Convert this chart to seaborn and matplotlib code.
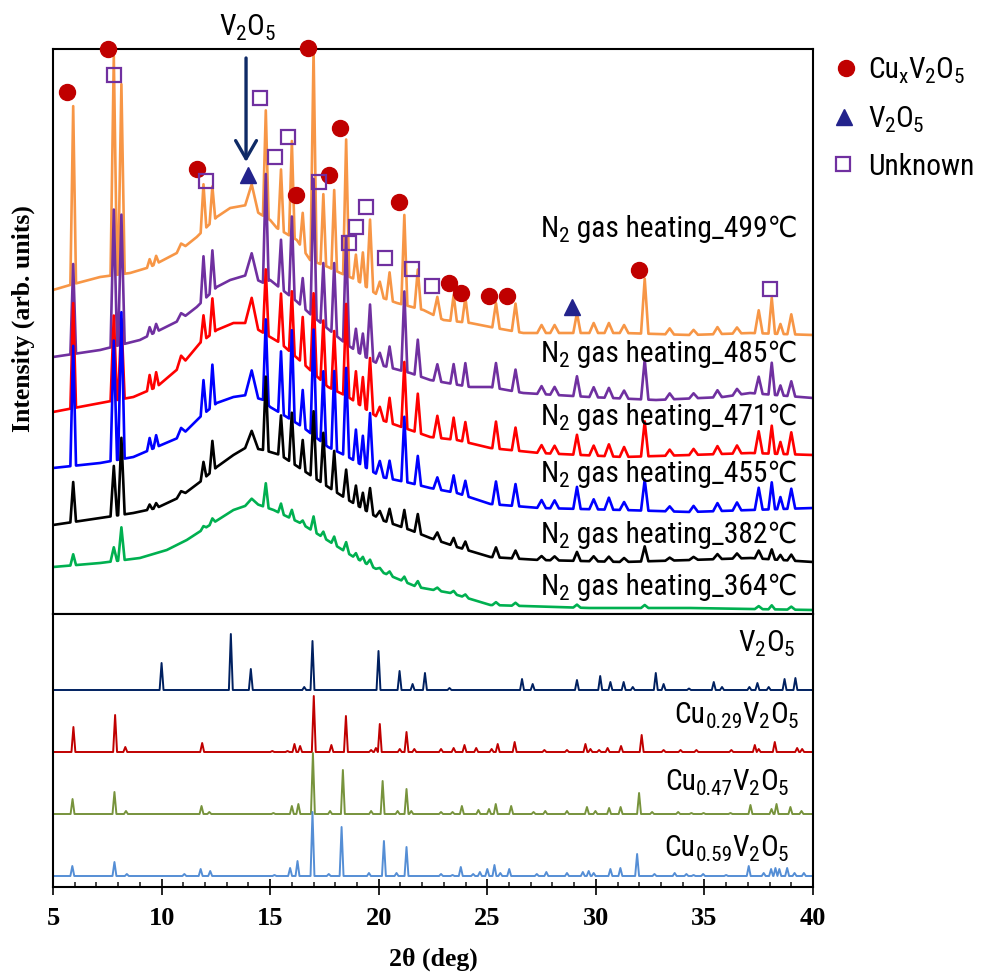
import numpy as np
import matplotlib
matplotlib.use("Agg")
import matplotlib.pyplot as plt
from matplotlib import font_manager
from matplotlib.lines import Line2D
from matplotlib.ticker import MultipleLocator
import seaborn as sns

W_PX, H_PX = 989, 974

# ---- measured XRD data (2theta in deg, intensity in arbitrary units) ----
# shared peak list of the heated samples (upper panel)
PEAK_POS = [5.93, 7.80, 8.15, 9.45, 9.75, 10.90, 11.93, 12.34, 14.15, 14.80,
            15.50, 16.00, 16.50, 17.00, 17.45, 17.95, 18.50, 18.95, 19.27, 19.60,
            20.05, 20.50, 21.18, 21.80, 22.70, 23.45, 23.99, 25.40, 26.30, 27.50,
            28.10, 29.13, 29.90, 30.60, 31.30, 32.25, 33.40, 34.50, 35.60, 36.50,
            37.50, 38.10, 38.50, 39.00]
PEAK_HW = [0.13, 0.15, 0.15, 0.12, 0.12, 0.20, 0.13, 0.13, 0.30, 0.13,
           0.13, 0.13, 0.13, 0.14, 0.13, 0.13, 0.14, 0.13, 0.13, 0.15,
           0.18, 0.15, 0.14, 0.15, 0.18, 0.15, 0.15, 0.17, 0.17, 0.20,
           0.20, 0.17, 0.20, 0.20, 0.20, 0.17, 0.20, 0.20, 0.20, 0.20,
           0.18, 0.15, 0.15, 0.18]

T499_BASE_X = [5.0, 5.78, 7.17, 8.55, 9.47, 10.7, 11.62, 12.08, 12.54, 13.16, 13.93, 14.54, 15.0,
               15.31, 16.23, 16.84, 17.67, 18.23, 18.99, 20.07, 20.84, 22.06, 22.99, 24.22, 25.14,
               26.66, 28.2, 31.27, 34.35, 37.12, 40.0]
T499_BASE_Y = [324, 329, 337, 341, 347, 361, 377, 387, 397, 406, 409, 400, 394,
               386, 374, 354, 347, 341, 334, 317, 311, 304, 294, 291, 287,
               281, 281, 281, 279, 281, 279]
T499_H = [178, 219, 190, 8, 8, 6, 46, 35, 24, 107,
          61, 96, 36, 211, 71, 80, 136, 25, 32, 70,
          15, 28, 90, 39, 20, 26, 25, 25, 28, 8,
          8, 20, 10, 10, 8, 55, 6, 5, 7, 6,
          23, 36, 10, 20]

T485_BASE_X = [5.0, 7.17, 9.0, 10.85, 11.62, 12.54, 13.16, 13.93, 14.7, 15.0, 16.2, 16.84, 17.67,
               18.5, 19.3, 20.07, 21.45, 22.37, 24.22, 25.14, 26.66, 29.7, 32.77, 35.84, 37.1, 40.0]
T485_BASE_Y = [257, 264, 274, 294, 307, 327, 334, 339, 331, 334, 313, 300, 285,
               270, 258, 249, 241, 234, 227, 227, 221, 217, 214, 217, 221, 216]
T485_H = [90, 137, 130, 8, 8, 6, 44, 41, 24, 108,
          49, 81, 29, 138, 62, 71, 108, 22, 22, 55,
          12, 21, 80, 36, 17, 20, 23, 25, 22, 8,
          8, 20, 10, 10, 8, 40, 6, 5, 7, 6,
          17, 32, 10, 15]

T471_BASE_X = [5.0, 7.17, 8.7, 9.77, 10.85, 11.77, 12.54, 13.31, 13.93, 14.7, 15.0, 15.47, 16.5,
               17.67, 18.6, 20.13, 21.45, 22.37, 23.6, 25.14, 27.4, 31.27, 34.35, 37.12, 40.0]
T471_BASE_Y = [202, 211, 217, 227, 247, 271, 284, 291, 291, 281, 277, 271, 251,
               227, 217, 194, 184, 177, 174, 166, 161, 157, 159, 161, 159]
T471_H = [105, 85, 80, 15, 15, 10, 25, 35, 28, 65,
          50, 62, 46, 80, 62, 59, 92, 31, 30, 54,
          12, 25, 66, 39, 22, 22, 20, 27, 23, 8,
          8, 20, 10, 12, 10, 35, 6, 6, 8, 8,
          22, 28, 12, 22]

T455_BASE_X = [5.0, 7.17, 8.7, 9.77, 10.85, 11.77, 12.54, 13.31, 13.93, 14.7, 15.0, 15.47, 16.5,
               17.67, 18.6, 20.13, 21.45, 22.37, 23.6, 25.14, 27.4, 31.27, 34.35, 37.12, 40.0]
T455_BASE_Y = [146, 151, 157, 167, 177, 197, 211, 217, 219, 214, 207, 201, 187,
               167, 157, 137, 131, 126, 121, 110, 106, 104, 102, 104, 106]
T455_H = [120, 120, 147, 12, 12, 8, 34, 42, 26, 83,
          62, 90, 37, 106, 72, 79, 88, 32, 30, 57,
          15, 18, 65, 29, 12, 17, 15, 23, 22, 8,
          8, 22, 10, 12, 8, 31, 5, 6, 8, 8,
          22, 27, 12, 20]

T382_BASE_X = [5.0, 7.17, 8.7, 9.77, 10.85, 11.77, 12.54, 13.31, 13.93, 14.7, 15.47, 16.5, 17.67,
               18.6, 20.13, 21.45, 22.37, 23.6, 25.14, 27.4, 31.27, 34.35, 37.12, 40.0]
T382_BASE_Y = [89, 96, 101, 106, 117, 132, 147, 159, 167, 164, 159, 144, 127,
               114, 94, 84, 76, 67, 57, 54, 52, 54, 56, 52]
T382_H = [40, 50, 77, 5, 5, 5, 17, 30, 17, 74,
          40, 50, 30, 66, 51, 40, 29, 19, 16, 25,
          8, 14, 18, 19, 8, 8, 8, 10, 8, 4,
          4, 9, 5, 5, 4, 15, 3, 3, 5, 5,
          8, 10, 5, 6]

T364_BASE_X = [5.0, 7.17, 9.0, 10.24, 11.16, 12.08, 13.31, 14.24, 15.16, 16.39, 17.62, 18.85,
               20.23, 21.77, 23.31, 25.14, 29.7, 34.35, 40.0]
T364_BASE_Y = [47, 51, 56, 64, 74, 87, 104, 111, 104, 91, 74, 57,
               41, 27, 21, 9, 6, 6, 4]
T364_H = [11, 14, 33, 0, 0, 0, 3, 5, 5, 24,
          10, 9, 4, 15, 6, 8, 10, 5, 5, 6,
          3, 4, 5, 6, 3, 3, 3, 3, 3, 0,
          0, 3, 0, 0, 0, 3, 0, 0, 0, 0,
          3, 4, 0, 3]

TEMPS = ["499", "485", "471", "455", "382", "364"]

# phase markers on the 499 degC pattern
CUX_MARK_X = [5.63, 7.55, 11.65, 16.76, 18.23, 17.69, 16.20, 20.94, 23.25, 23.80, 25.09, 25.92, 32.00]
CUX_MARK_Y = [522, 565, 445, 566, 486, 439, 419, 412, 331, 321, 318, 318, 344]
UNK_MARK_X = [7.82, 14.54, 15.80, 15.23, 12.05, 17.26, 19.42, 18.96, 18.64, 20.30, 21.54, 22.47, 38.01]
UNK_MARK_Y = [539, 516, 477, 457, 433, 432, 407, 387, 371, 356, 345, 328, 325]
V2O5_MARK_X = [14.00, 28.90]
V2O5_MARK_Y = [439, 307]

# reference patterns (lower panel)
REF_V2O5_POS = [10.0, 13.19, 14.11, 16.57, 16.95, 19.99, 20.96, 21.56, 22.13, 23.26, 26.6, 27.09,
                29.13, 30.2, 30.67, 31.28, 31.7, 32.76, 33.12, 34.29, 35.43, 35.81, 37.07, 37.44,
                37.96, 38.69, 39.19]
REF_V2O5_H = [27, 56, 21, 3, 49, 39, 19, 6, 17, 2, 11, 6,
              10, 14, 8, 8, 3, 17, 6, 1.5, 8, 3, 3, 7,
              3, 11, 12]
REF_CU029_POS = [5.94, 7.86, 8.33, 11.87, 15.1, 15.8, 16.12, 16.38, 17.01, 17.82, 18.49, 19.65,
                 19.87, 20.05, 20.97, 21.28, 21.64, 22.87, 23.45, 23.95, 24.49, 25.2, 25.48, 26.26,
                 27.63, 28.67, 29.52, 29.75, 30.15, 30.54, 31.16, 32.11, 33.12, 33.9, 34.63, 36.24,
                 37.32, 37.5, 38.24, 39.27, 39.5]
REF_CU029_H = [25, 37, 5, 9, 1, 1, 8, 6, 56, 7, 36, 2,
               4, 28, 3, 20, 3, 3, 4, 7, 4, 3, 8, 10,
               2, 2, 8, 3, 2, 4, 6, 17, 2, 2, 2, 2,
               7, 3, 10, 4, 3]
REF_CU047_POS = [5.9, 7.83, 8.36, 11.84, 12.2, 15.15, 16.0, 16.3, 16.97, 17.76, 18.35, 19.65,
                 20.18, 20.87, 21.28, 21.5, 22.87, 23.4, 23.83, 24.59, 25.08, 25.39, 26.1, 27.13,
                 27.67, 28.67, 29.59, 29.98, 30.61, 31.14, 31.99, 32.59, 33.79, 34.4, 34.96, 36.2,
                 37.12, 38.09, 38.32, 38.96, 39.47]
REF_CU047_H = [15, 22, 3, 8, 2, 1, 8, 10, 61, 3, 44, 3,
               33, 3, 25, 3, 2, 2, 8, 4, 5, 10, 8, 2,
               3, 3, 7, 3, 6, 7, 21, 2, 2, 1, 1, 1,
               9, 5, 10, 7, 3]
REF_CU059_POS = [5.89, 7.83, 8.4, 11.05, 11.8, 12.24, 15.2, 15.92, 16.26, 16.95, 17.7, 18.29,
                 19.55, 20.24, 20.82, 21.28, 22.87, 23.4, 23.78, 24.35, 24.66, 25.0, 25.33, 25.6,
                 26.01, 27.28, 27.72, 28.67, 29.4, 29.67, 29.9, 30.67, 31.13, 31.9, 32.7, 33.63,
                 34.17, 34.5, 34.94, 36.0, 37.04, 37.73, 38.07, 38.27, 38.45, 38.81, 39.15, 39.58]
REF_CU059_H = [10, 14, 2, 2, 7, 5, 1, 8, 15, 64, 2, 49,
               3, 35, 3, 29, 2, 1, 9, 2, 4, 7, 11, 3,
               7, 2, 4, 3, 4, 5, 3, 7, 8, 22, 2, 3,
               2, 1, 2, 1, 10, 3, 7, 8, 7, 8, 3, 3]
REF_OFFSETS = [197, 135, 73, 11]

# ---- styling ----
TOP_COLORS = ["#F79646", "#7030A0", "#FF0000", "#0000FF", "#000000", "#00B050"]
REF_COLORS = ["#002060", "#C00000", "#77933C", "#558ED5"]
CUX_COLOR = "#C00000"
V2O5_COLOR = "#23238C"
UNK_COLOR = "#7030A0"
ARROW_COLOR = "#0F2A66"

sns.set_style("white")
plt.rcParams["text.color"] = "black"

# the labels use a narrow sans face; take the narrowest one that is installed
_names = {f.name for f in font_manager.fontManager.ttflist}
_narrow = [n for n in ["Liberation Sans Narrow", "Roboto Condensed", "Noto Sans Condensed",
                       "Noto Sans SemiCondensed", "Open Sans Condensed", "DejaVu Sans Condensed"]
           if n in _names]
NARROW = _narrow[0] if _narrow else "DejaVu Sans"
LABEL_FONT = [NARROW, "DejaVu Sans", "Noto Sans CJK JP"]
LABEL_STRETCH = "condensed"
SERIF = "Liberation Serif"
SUB_SCALE = 0.72
SUB_DROP = 5  # px


def peak_trace(base_x, base_y, pos, heights, hw):
    """polyline: baseline knots plus a triangle (foot, apex, foot) for each peak"""
    bx = np.asarray(base_x, float)
    by = np.asarray(base_y, float)
    pos = np.asarray(pos, float)
    h = np.asarray(heights, float)
    w = np.broadcast_to(np.asarray(hw, float), pos.shape).copy()
    # feet of neighbouring peaks must not cross
    gaps = np.diff(pos)
    left = np.concatenate([[np.inf], gaps])
    right = np.concatenate([gaps, [np.inf]])
    w = np.minimum(w, 0.49 * np.minimum(left, right))
    keep = h > 0
    pos, h, w = pos[keep], h[keep], w[keep]
    inside = np.zeros(bx.size, bool)
    for p, ww in zip(pos, w):
        inside |= (bx > p - ww) & (bx < p + ww)
    fl = np.clip(pos - w, bx[0], bx[-1])
    fr = np.clip(pos + w, bx[0], bx[-1])
    x = np.concatenate([bx[~inside], fl, pos, fr])
    y = np.concatenate([by[~inside], np.interp(fl, bx, by), np.interp(pos, bx, by) + h,
                        np.interp(fr, bx, by)])
    order = np.argsort(x, kind="stable")
    return x[order], y[order]


fig = plt.figure(figsize=(W_PX / 100, H_PX / 100), dpi=100)


def fx(px):
    return px / W_PX


def fy(py):
    return 1 - py / H_PX


ax_top = fig.add_axes([fx(53), fy(614), fx(813) - fx(53), fy(49) - fy(614)])
ax_bot = fig.add_axes([fx(53), fy(887), fx(813) - fx(53), fy(614) - fy(887)], sharex=ax_top)

# upper panel: heated samples
top_curves = [(T499_BASE_X, T499_BASE_Y, T499_H), (T485_BASE_X, T485_BASE_Y, T485_H),
              (T471_BASE_X, T471_BASE_Y, T471_H), (T455_BASE_X, T455_BASE_Y, T455_H),
              (T382_BASE_X, T382_BASE_Y, T382_H), (T364_BASE_X, T364_BASE_Y, T364_H)]
for (bx, by, hh), col in zip(top_curves, TOP_COLORS):
    xs, ys = peak_trace(bx, by, PEAK_POS, hh, PEAK_HW)
    sns.lineplot(x=xs, y=ys, ax=ax_top, color=col, linewidth=1.9, estimator=None, sort=False)

ax_top.plot(CUX_MARK_X, CUX_MARK_Y, ls="none", marker="o", ms=11.5, color=CUX_COLOR, clip_on=False, zorder=5)
ax_top.plot(V2O5_MARK_X, V2O5_MARK_Y, ls="none", marker="^", ms=11, color=V2O5_COLOR, clip_on=False, zorder=5)
ax_top.plot(UNK_MARK_X, UNK_MARK_Y, ls="none", marker="s", ms=10, mfc="none", mec=UNK_COLOR, mew=1.6,
            clip_on=False, zorder=5)
ax_top.annotate("", xy=(13.89, 452), xytext=(13.89, 556),
                arrowprops=dict(arrowstyle="->, head_length=1.3, head_width=0.75", lw=2.4,
                                color=ARROW_COLOR, shrinkA=0, shrinkB=0))
ax_top.set_ylim(0, 565)

# lower panel: reference patterns
refs = [(REF_V2O5_POS, REF_V2O5_H), (REF_CU029_POS, REF_CU029_H),
        (REF_CU047_POS, REF_CU047_H), (REF_CU059_POS, REF_CU059_H)]
for (pp, hh), off, col in zip(refs, REF_OFFSETS, REF_COLORS):
    xs, ys = peak_trace([5, 40], [off, off], pp, hh, 0.09)
    sns.lineplot(x=xs, y=ys, ax=ax_bot, color=col, linewidth=1.4, estimator=None, sort=False)
ax_bot.set_ylim(0, 273)

ax_bot.set_xlim(5, 40)
ax_bot.set_xticks(range(5, 41, 5))
ax_bot.xaxis.set_minor_locator(MultipleLocator(1))
ax_bot.tick_params(axis="x", which="major", direction="inout", length=11.5, width=1.2, pad=9,
                   bottom=True, top=False, colors="black")
ax_bot.tick_params(axis="x", which="minor", direction="in", length=3.8, width=1.2, bottom=True, top=False)
for lab in ax_bot.get_xticklabels():
    lab.set_fontfamily(SERIF)
    lab.set_fontweight("bold")
    lab.set_fontsize(19)
ax_top.tick_params(axis="x", which="both", bottom=False, labelbottom=False)
for a in (ax_top, ax_bot):
    a.set_yticks([])
    a.set_xlabel("")
    a.set_ylabel("")
    for sp in a.spines.values():
        sp.set_linewidth(1.5)
        sp.set_color("black")

fig.text(fx(433), fy(966), "2θ (deg)", family=SERIF, weight="bold", fontsize=18.5, ha="center", va="baseline")
fig.text(fx(23), fy(319), "Intensity (arb. units)", family=SERIF, weight="bold", fontsize=18.5,
         rotation=90, ha="center", va="center")

# labels with subscripts are put together piece by piece
rend = fig.canvas.get_renderer()


def make_part(s, size, sub):
    return fig.text(0, 0, s, fontsize=size * (SUB_SCALE if sub else 1), family=LABEL_FONT,
                    stretch=LABEL_STRETCH, color="black", ha="left", va="baseline")


def part_widths(parts, size):
    widths = []
    for s, sub in parts:
        t = make_part(s, size, sub)
        widths.append(t.get_window_extent(rend).width)
        t.remove()
    return widths


def rich_text(parts, x_px, base_px, size, ha="right"):
    widths = part_widths(parts, size)
    total = sum(widths)
    x = {"right": x_px - total, "center": x_px - total / 2}.get(ha, x_px)
    for (s, sub), w in zip(parts, widths):
        y = base_px + (SUB_DROP if sub else 0)
        t = make_part(s, size, sub)
        t.set_position((fx(x), fy(y)))
        x += w


def heat_parts(t):
    return [("N", 0), ("2", 1), (" gas heating_" + t + "℃", 0)]


# font size so that the sample labels have the width seen in the picture
LABEL_SIZE = 20 * 256 / sum(part_widths(heat_parts("499"), 20))

V2O5_PARTS = [("V", 0), ("2", 1), ("O", 0), ("5", 1)]


def cu_parts(x):
    return [("Cu", 0), (x, 1)] + V2O5_PARTS


for t, base in zip(TEMPS, [237, 362, 425, 482, 543, 595]):
    rich_text(heat_parts(t), 797, base, LABEL_SIZE)

rich_text(V2O5_PARTS, 794, 651, LABEL_SIZE)
rich_text(cu_parts("0.29"), 798, 723, LABEL_SIZE)
rich_text(cu_parts("0.47"), 788, 790, LABEL_SIZE)
rich_text(cu_parts("0.59"), 788, 856, LABEL_SIZE)
rich_text(V2O5_PARTS, 247, 35, LABEL_SIZE, ha="center")

# legend drawn by hand, outside the axes
fig.add_artist(Line2D([fx(846)], [fy(68)], marker="o", ms=11.5, color=CUX_COLOR, ls="none"))
fig.add_artist(Line2D([fx(844)], [fy(117)], marker="^", ms=11, color=V2O5_COLOR, ls="none"))
fig.add_artist(Line2D([fx(843)], [fy(164)], marker="s", ms=10, mfc="none", mec=UNK_COLOR, mew=1.6, ls="none"))
rich_text(cu_parts("x"), 868, 78, LABEL_SIZE, ha="left")
rich_text(V2O5_PARTS, 868, 127, LABEL_SIZE, ha="left")
rich_text([("Unknown", 0)], 868, 175, LABEL_SIZE, ha="left")

fig.savefig("out.png", dpi=100)
